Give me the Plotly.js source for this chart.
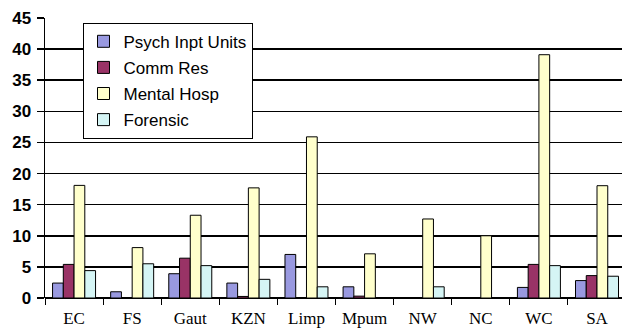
<!DOCTYPE html>
<html>
<head>
<meta charset="utf-8">
<script src="https://cdn.plot.ly/plotly-3.0.1.min.js"></script>
<style>html,body{margin:0;padding:0;background:#fff;}#chart{width:622px;height:329px;}</style>
</head>
<body>
<div id="chart"></div>
<script>
const categories = ["EC", "FS", "Gaut", "KZN", "Limp", "Mpum", "NW", "NC", "WC", "SA"];
const psychInpt = [2.4, 1.0, 3.9, 2.4, 7.0, 1.8, 0, 0, 1.7, 2.8];
const commRes = [5.4, 0, 6.4, 0.25, 0, 0.3, 0, 0, 5.4, 3.6];
const mentalHosp = [18.1, 8.1, 13.3, 17.7, 25.9, 7.1, 12.7, 10.0, 39.1, 18.05];
const forensic = [4.4, 5.5, 5.2, 3.0, 1.8, 0, 1.8, 0, 5.2, 3.5];
const seriesNames = ["Psych Inpt Units", "Comm Res", "Mental Hosp", "Forensic"];
const yTicks = [0, 5, 10, 15, 20, 25, 30, 35, 40, 45];

const colors = ["#9999E0", "#993366", "#FFFFCC", "#D5F5F5"];
const values = [psychInpt, commRes, mentalHosp, forensic];

const traces = values.map((v, i) => ({
  type: "bar",
  name: seriesNames[i],
  legendgroup: "g" + i,
  x: categories,
  y: v,
  marker: {color: colors[i], line: {color: "#000", width: 1}}
}));

const layout = {
  width: 622, height: 329,
  margin: {l: 45, r: 0, t: 18, b: 31, pad: 0},
  paper_bgcolor: "#fff", plot_bgcolor: "#fff",
  barmode: "group", bargap: 0.26, bargroupgap: 0,
  showlegend: true,
  legend: {
    x: 0.065, y: 0.983, xanchor: "left", yanchor: "top",
    bgcolor: "#fff", bordercolor: "#000", borderwidth: 1,
    font: {family: "Liberation Sans, Arial, sans-serif", size: 17, color: "#000"},
    traceorder: "grouped", tracegroupgap: 1, itemwidth: 30
  },
  xaxis: {
    type: "category", range: [-0.5, 9.43],
    tickson: "boundaries", ticks: "outside", ticklen: 6, tickcolor: "#000", tickwidth: 1,
    showgrid: false, showline: false, zeroline: false,
    ticklabelstandoff: 8,
    tickfont: {family: "Liberation Serif, Times New Roman, serif", size: 17, color: "#000"},
    fixedrange: true
  },
  yaxis: {
    range: [0, 45], tickvals: yTicks, ticktext: yTicks.map(String),
    showgrid: true, gridcolor: "#000", gridwidth: 1.5,
    zeroline: true, zerolinecolor: "#000", zerolinewidth: 1.5,
    showline: true, linecolor: "#000", linewidth: 1.5,
    ticks: "outside", ticklen: 7, tickcolor: "#000", tickwidth: 1.5,
    ticklabelstandoff: 2,
    tickfont: {family: "Liberation Sans, Arial, sans-serif", size: 17, color: "#000", weight: "bold"},
    fixedrange: true
  }
};

Plotly.newPlot("chart", traces, layout, {displayModeBar: false, staticPlot: true});
</script>
</body>
</html>
